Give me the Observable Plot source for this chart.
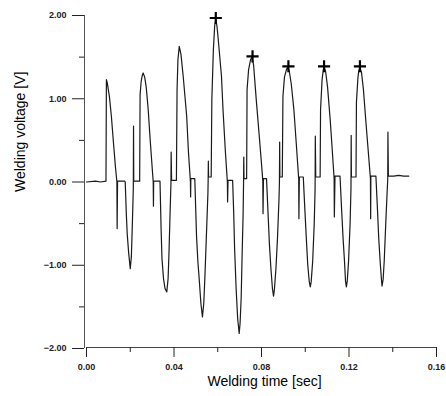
<!DOCTYPE html>
<html>
<head>
<meta charset="utf-8">
<script src="https://cdn.jsdelivr.net/npm/d3@7"></script>
<script src="https://cdn.jsdelivr.net/npm/@observablehq/plot@0.6"></script>
<style>
  html, body { margin: 0; padding: 0; background: #fff; }
  svg { display: block; }
</style>
</head>
<body>
<div id="chart"></div>
<script>
// Welding time [sec]
const time = [
  0.0000, 0.0041, 0.0064, 0.0089, 0.0091, 0.0095, 0.0105, 0.0114, 0.0123, 0.0132,
  0.0139, 0.0140, 0.0142, 0.0175, 0.0177, 0.0182, 0.0186, 0.0193, 0.0200, 0.0205,
  0.0209, 0.0214, 0.0215, 0.0216, 0.0243, 0.0245, 0.0250, 0.0255, 0.0259, 0.0266,
  0.0273, 0.0282, 0.0291, 0.0300, 0.0305, 0.0306, 0.0307, 0.0336, 0.0341, 0.0345,
  0.0352, 0.0359, 0.0367, 0.0373, 0.0377, 0.0382, 0.0386, 0.0387, 0.0389, 0.0411,
  0.0414, 0.0418, 0.0424, 0.0432, 0.0442, 0.0458, 0.0466, 0.0475, 0.0476, 0.0477,
  0.0495, 0.0503, 0.0509, 0.0515, 0.0523, 0.0530, 0.0536, 0.0541, 0.0548, 0.0555,
  0.0556, 0.0557, 0.0558, 0.0570, 0.0573, 0.0580, 0.0586, 0.0591, 0.0596, 0.0601,
  0.0617, 0.0624, 0.0635, 0.0644, 0.0645, 0.0647, 0.0668, 0.0673, 0.0677, 0.0684,
  0.0691, 0.0698, 0.0702, 0.0707, 0.0711, 0.0716, 0.0718, 0.0719, 0.0720, 0.0732,
  0.0734, 0.0741, 0.0750, 0.0757, 0.0764, 0.0776, 0.0791, 0.0800, 0.0806, 0.0807,
  0.0809, 0.0823, 0.0830, 0.0836, 0.0843, 0.0850, 0.0855, 0.0859, 0.0866, 0.0873,
  0.0880, 0.0882, 0.0883, 0.0884, 0.0895, 0.0898, 0.0905, 0.0914, 0.0920, 0.0927,
  0.0936, 0.0948, 0.0959, 0.0970, 0.0971, 0.0973, 0.0991, 0.0998, 0.1005, 0.1011,
  0.1018, 0.1023, 0.1027, 0.1034, 0.1041, 0.1045, 0.1046, 0.1048, 0.1068, 0.1070,
  0.1077, 0.1082, 0.1086, 0.1093, 0.1102, 0.1114, 0.1123, 0.1132, 0.1133, 0.1136,
  0.1159, 0.1166, 0.1173, 0.1180, 0.1184, 0.1188, 0.1192, 0.1198, 0.1205, 0.1209,
  0.1210, 0.1211, 0.1232, 0.1234, 0.1241, 0.1245, 0.1250, 0.1257, 0.1266, 0.1277,
  0.1288, 0.1298, 0.1299, 0.1300, 0.1323, 0.1330, 0.1336, 0.1343, 0.1348, 0.1351,
  0.1356, 0.1361, 0.1368, 0.1375, 0.1377, 0.1378, 0.1380, 0.1405, 0.1427, 0.1450,
  0.1473
];
// Welding voltage [V]
const voltage = [
   0.00,  0.01,  0.00,  0.01,  1.23,  1.19,  1.02,  0.78,  0.48,  0.19,
   0.00, -0.56,  0.01,  0.01,  0.00, -0.38, -0.62, -0.86, -1.04, -0.90,
  -0.56, -0.08,  0.67,  0.01,  0.01,  1.05,  1.21,  1.28,  1.31,  1.26,
   1.14,  0.87,  0.51,  0.18,  0.00, -0.29,  0.01,  0.01, -0.56, -0.92,
  -1.16, -1.28, -1.32, -1.16, -0.86, -0.38, -0.02,  0.36,  0.02,  0.02,
   1.11,  1.47,  1.63,  1.53,  1.27,  0.79,  0.36,  0.01, -0.18,  0.04,
   0.04, -0.65, -0.95, -1.16, -1.46, -1.62, -1.46, -1.16, -0.65, -0.14,
   0.00,  0.25,  0.06,  0.06,  0.99,  1.59,  1.88,  1.95,  1.88,  1.75,
   1.27,  0.87,  0.36,  0.00, -0.24,  0.02,  0.02, -0.38, -0.80, -1.28,
  -1.64, -1.82, -1.70, -1.40, -0.92, -0.38,  0.00,  0.30,  0.04,  0.04,
   1.11,  1.35,  1.47,  1.50,  1.40,  0.99,  0.51,  0.22,  0.01, -0.38,
   0.04,  0.04, -0.38, -0.74, -1.04, -1.28, -1.37, -1.29, -1.04, -0.68,
  -0.20,  0.00,  0.48,  0.06,  0.06,  1.03,  1.26,  1.35,  1.38,  1.33,
   1.18,  0.87,  0.46,  0.04, -0.44,  0.06,  0.06, -0.32, -0.68, -0.98,
  -1.19, -1.26, -1.20, -0.95, -0.50, -0.08,  0.55,  0.06,  0.06,  0.87,
   1.23,  1.34,  1.38,  1.33,  1.14,  0.75,  0.40,  0.04, -0.42,  0.07,
   0.07, -0.32, -0.68, -0.98, -1.19, -1.26, -1.19, -0.95, -0.50, -0.08,
   0.56,  0.06,  0.06,  0.96,  1.26,  1.34,  1.37,  1.32,  1.11,  0.73,
   0.37,  0.04, -0.44,  0.07,  0.07, -0.32, -0.68, -0.98, -1.16, -1.25,
  -1.17, -0.95, -0.50, -0.08,  0.02,  0.60,  0.07,  0.07,  0.08,  0.07,
   0.07
];
// Marked peaks (+)
const peakTime = [0.0591, 0.0759, 0.0923, 0.1086, 0.1250];
const peakVoltage = [1.97, 1.51, 1.39, 1.39, 1.39];

// Axis ticks
const xTicks = [0, 0.04, 0.08, 0.12, 0.16];
const xMinorTicks = [0.02, 0.06, 0.10, 0.14];
const yTicks = [-2, -1, 0, 1, 2];
const yMinorTicks = [-1.5, -0.5, 0.5, 1.5];
const xTitle = "Welding time [sec]";
const yTitle = "Welding voltage [V]";

const series = time.map((t, i) => ({t, v: voltage[i]}));
const peaks = peakTime.map((t, i) => ({t, v: peakVoltage[i]}));
const fmt = d3.format(".2f");

const chart = Plot.plot({
  width: 446,
  height: 396,
  marginLeft: 86,
  marginRight: 10,
  marginTop: 15,
  marginBottom: 48,
  x: {domain: [0, 0.16]},
  y: {domain: [-2, 2]},
  style: {fontFamily: "'Liberation Sans', Arial, sans-serif", fontSize: "9px", background: "#fff", color: "#222"},
  marks: [
    Plot.ruleX([0], {y1: -2, y2: 2, dx: -2, stroke: "#555", strokeWidth: 1}),
    Plot.ruleY([-2], {x1: 0, x2: 0.16, dy: -1, stroke: "#444", strokeWidth: 1}),
    Plot.axisX({ticks: xTicks, tickFormat: fmt, tickSize: 10, tickPadding: 6, label: null, dy: -1, fontWeight: "bold", fontSize: 9}),
    Plot.axisX({ticks: xMinorTicks, tickFormat: () => "", tickSize: 5, label: null, dy: -1}),
    Plot.axisY({ticks: yTicks, tickFormat: fmt, tickSize: 12, tickPadding: 6, label: null, dx: -2, fontWeight: "bold", fontSize: 9}),
    Plot.axisY({ticks: yMinorTicks, tickFormat: () => "", tickSize: 5, label: null, dx: -2}),
    Plot.text([xTitle], {frameAnchor: "bottom", dx: 3, dy: 37, fontSize: 14, fill: "#000", style: "letter-spacing:1px"}),
    Plot.text([yTitle], {frameAnchor: "left", rotate: -90, dx: -66, dy: 10, fontSize: 14, fill: "#000", style: "letter-spacing:0.8px"}),
    Plot.line(series, {x: "t", y: "v", stroke: "#1a1a1a", strokeWidth: 1.2, curve: "linear"}),
    Plot.dot(peaks, {x: "t", y: "v", symbol: "plus", r: 4, stroke: "#000", strokeWidth: 2.2})
  ]
});
document.getElementById("chart").append(chart);
</script>
</body>
</html>
